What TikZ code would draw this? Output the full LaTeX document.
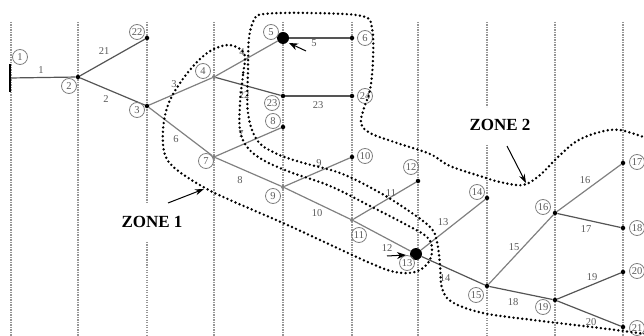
\documentclass[tikz,border=0pt]{standalone}
\usepackage{fontspec}
\setmainfont{Liberation Serif}
\usetikzlibrary{arrows.meta}
\definecolor{wire}{RGB}{128,128,128}
\definecolor{mainwire}{RGB}{85,85,85}
\definecolor{gridc}{RGB}{150,150,150}
\definecolor{tag}{RGB}{90,90,90}
\begin{document}
\begin{tikzpicture}[x=1pt,y=-1pt,
  bus/.style={circle,fill=black,inner sep=0pt,minimum size=4.5pt},
  busg/.style={circle,fill=wire,inner sep=0pt,minimum size=4pt},
  dg/.style={circle,fill=black,inner sep=0pt,minimum size=12pt},
  tagc/.style={circle,draw=wire,line width=0.8pt,inner sep=0.2pt,minimum size=15pt,font=\fontsize{10.5}{10.5}\selectfont,text=tag},
  lbl/.style={font=\fontsize{10.5}{10.5}\selectfont,text=tag},
  br/.style={wire,line width=1.2pt},
  fd/.style={mainwire,line width=1.2pt},
  gridline/.style={gridc,line width=1.3pt,dash pattern=on 1.3pt off 1.2pt},
  zone/.style={black,line width=2.7pt,dash pattern=on 0pt off 4.4pt,line cap=round},
  zonelbl/.style={font=\fontsize{17}{17}\selectfont\bfseries}]
  \useasboundingbox (0,0) rectangle (644,336);
  % vertical dotted guides
  \foreach \x in {11,78,214,283,352,418,555,623}
    \draw[gridline] (\x,22) -- (\x,336);
  \draw[gridline] (147,22) -- (147,203);
  \draw[gridline] (147,242) -- (147,336);
  \draw[gridline] (487,22) -- (487,107);
  \draw[gridline] (487,145) -- (487,336);
  % buses
  \node[fill=black,inner sep=0pt,minimum width=2pt,minimum height=28pt] (b1) at (10,78) {};
  \foreach \n/\x/\y in {2/78/77,3/147/106,22/147/38,6/352/38,23/283/96,24/352/96,8/283/127,
      10/352/157,12/418/181,14/487/198,15/487/286,16/555/213,17/623/163,18/623/228,
      19/555/300,20/623/272,21/623/327}
    \node[bus] (b\n) at (\x,\y) {};
  \foreach \n/\x/\y in {4/214/77,7/214/157,9/283/187,11/352/220}
    \node[busg] (b\n) at (\x,\y) {};
  \node[dg] (b5) at (283,38) {};
  \node[dg] (b13) at (416,254) {};
  % lines
  \draw[fd] (b1) -- (b2);
  \draw[fd] (b2) -- (b3);
  \draw[fd] (b2) -- (b22);
  \draw[br] (b3) -- (b4);
  \draw[br] (b4) -- (b5);
  \draw[fd] (b5) -- (b6);
  \draw[fd] (b4) -- (b23);
  \draw[fd] (b23) -- (b24);
  \draw[br] (b3) -- (b7);
  \draw[br] (b7) -- (b8);
  \draw[br] (b7) -- (b9);
  \draw[br] (b9) -- (b10);
  \draw[br] (b9) -- (b11);
  \draw[br] (b11) -- (b12);
  \draw[br] (b11) -- (b13);
  \draw[br] (b13) -- (b14);
  \draw[fd] (b13) -- (b15);
  \draw[br] (b15) -- (b16);
  \draw[br] (b16) -- (b17);
  \draw[fd] (b16) -- (b18);
  \draw[fd] (b15) -- (b19);
  \draw[fd] (b19) -- (b20);
  \draw[fd] (b19) -- (b21);
  % line numbers
  \foreach \n/\x/\y in {1/41/70,21/104/51,2/106/99,3/174/84,4/242/52,5/314/43,22/244/95,
      23/318/105,6/176/139,7/241/134,8/240/180,9/319/163,10/317/213,11/391/193,12/387/248,
      13/443/222,14/445/278,15/514/247,16/585/180,17/586/229,18/513/302,19/592/277,20/591/322}
    \node[lbl] (e\n) at (\x,\y) {\n};
  % bus numbers
  \foreach \n/\x/\y in {1/20/57,2/69/86,22/137/32,3/137/110,4/203/71,5/271/32,6/365/38,
      23/272/103,24/365/96,8/273/121,7/206/161,9/273/196,10/365/156,11/359/235,12/411/167,
      13/407/263,14/477/192,15/476/295,16/543/207,17/637/162,18/637/228,19/543/307,
      20/637/271,21/637/328}
    \node[tagc] (t\n) at (\x,\y) {\n};
  % zone 1
  \draw[zone] plot[smooth cycle,tension=0.6] coordinates {(245,57) (243,75) (240,103) (240,130)
    (247,147) (263,160) (290,172) (330,186) (370,206) (403,223) (427,237) (432,250) (428,263)
    (415,272) (395,272) (370,263) (320,240) (283,223) (230,200) (205,188) (177,170) (165,155)
    (163,130) (168,105) (180,83) (197,62) (212,50) (228,45) (240,49)};
  % zone 2
  \draw[zone] plot[smooth,tension=0.6] coordinates {(646,138) (620,130) (600,132) (577,141)
    (557,158) (540,175) (523,185) (500,182) (483,177) (450,166) (430,154) (397,143) (370,133)
    (361,123) (364,108) (370,90) (373,60) (372,28) (362,16) (310,13) (264,14) (254,20) (249,38)
    (248,70) (248,113) (257,140) (275,153) (300,162) (340,173) (375,190) (403,207) (430,227)
    (437,242) (440,265) (442,288) (452,302) (483,313) (533,320) (600,328) (646,334)};
  % zone names and pointers
  \node[zonelbl] (zone1) at (152,222) {ZONE 1};
  \node[zonelbl] (zone2) at (500,125) {ZONE 2};
  \coordinate (z1tail) at (168,203);
  \coordinate (z1tip) at (204,189);
  \coordinate (z2tail) at (507,146);
  \coordinate (z2tip) at (526,183);
  \draw[-{Stealth[length=9pt,width=6pt]},line width=1pt] (z1tail) -- (z1tip);
  \draw[-{Stealth[length=9pt,width=6pt]},line width=1pt] (z2tail) -- (z2tip);
  \coordinate (dg5tail) at (306,51);
  \coordinate (dg5tip) at (289,43);
  \coordinate (dg13tail) at (387,256);
  \coordinate (dg13tip) at (406,255);
  \draw[-{Stealth[length=9pt,width=7pt]},line width=1pt] (dg5tail) -- (dg5tip);
  \draw[-{Stealth[length=9pt,width=7pt]},line width=1pt] (dg13tail) -- (dg13tip);
\end{tikzpicture}
\end{document}
